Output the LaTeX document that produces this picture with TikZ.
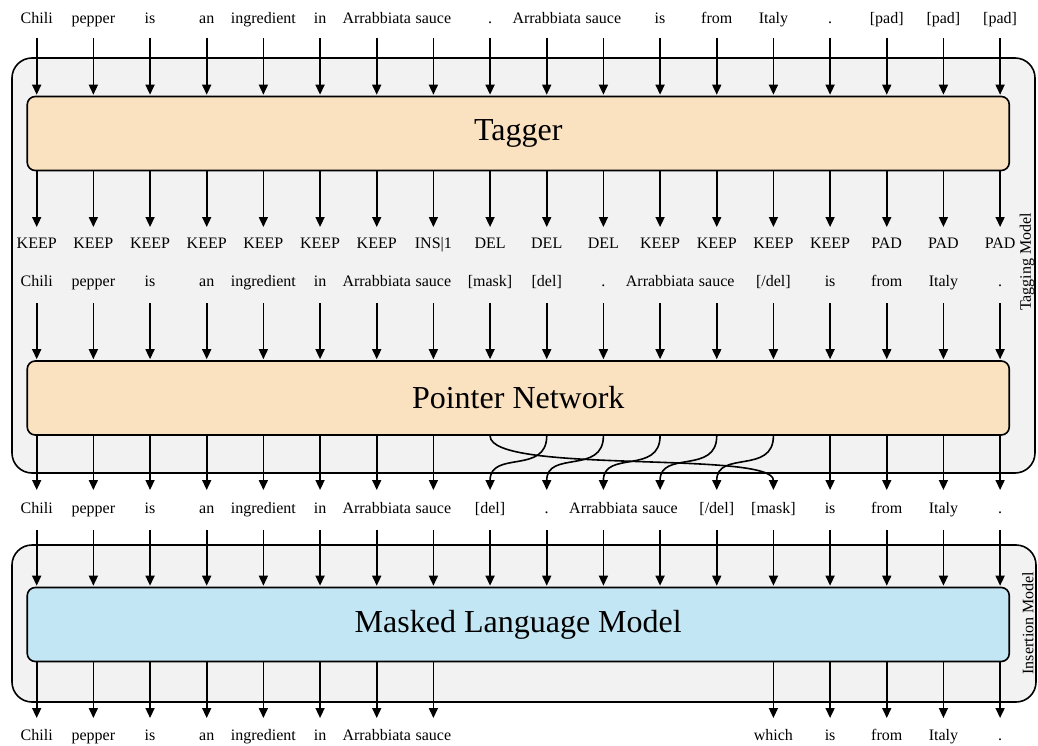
\documentclass[tikz,border=0pt]{standalone}
\usepackage{fontspec}
\setmainfont{Liberation Serif}
\usetikzlibrary{arrows.meta,calc}
\definecolor{outerfill}{RGB}{242,242,242}
\definecolor{tagfill}{RGB}{250,226,192}
\definecolor{mlmfill}{RGB}{195,230,245}
\begin{document}
\begin{tikzpicture}[x=1pt,y=-1pt,
  arr/.style={-{Triangle[length=10pt,width=9pt]}, line width=1.6pt},
  outerbox/.style={draw, line width=1.6pt, fill=outerfill, rounded corners=20pt, inner sep=0pt},
  innerbox/.style={draw, line width=1.6pt, rounded corners=8pt, inner sep=0pt, minimum width=982pt, minimum height=74pt, font=\fontsize{32pt}{38pt}\selectfont},
  lbl/.style={inner sep=0pt, text height=11pt, text depth=3.5pt, font=\fontsize{16pt}{19pt}\selectfont},
  side/.style={inner sep=0pt, rotate=90, font=\fontsize{16pt}{19pt}\selectfont}]
\useasboundingbox (0,0) rectangle (1038,746);
% outer model boxes
\node[outerbox, minimum width=1023pt, minimum height=415pt] (tagmodel) at (523.5,265.5) {};
\node[outerbox, minimum width=1024pt, minimum height=157pt] (insmodel) at (524,623.5) {};
\node[side] (taglbl) at (1027,262) {Tagging Model};
\node[side] (inslbl) at (1028,623) {Insertion Model};
% inner boxes
\node[innerbox, fill=tagfill] (tagger) at (518.25,133.5) {Tagger};
\node[innerbox, fill=tagfill] (pointer) at (518.25,398) {Pointer Network};
\node[innerbox, fill=mlmfill] (mlm) at (518.25,624.5) {Masked Language Model};
% row 0: input
\foreach \w [count=\i from 0] in {Chili,pepper,is,an,ingredient,in,Arrabbiata,sauce,.,Arrabbiata,sauce,is,from,Italy,.,{[pad]},{[pad]},{[pad]}} {
  \node[lbl] (r0-\i) at ({36.7+56.67*\i},20) {\w};
  \draw[arr, shorten <=18pt, shorten >=1pt] (r0-\i.center) -- (r0-\i |- tagger.north);
}
% tags
\foreach \w [count=\i from 0] in {KEEP,KEEP,KEEP,KEEP,KEEP,KEEP,KEEP,{INS|1},DEL,DEL,DEL,KEEP,KEEP,KEEP,KEEP,PAD,PAD,PAD} {
  \node[lbl] (tg-\i) at ({36.7+56.67*\i},245) {\w};
  \draw[arr, shorten >=18pt] (tagger.south -| tg-\i) -- (tg-\i.center);
}
% row 1: realized tags
\foreach \w [count=\i from 0] in {Chili,pepper,is,an,ingredient,in,Arrabbiata,sauce,{[mask]},{[del]},.,Arrabbiata,sauce,{[/del]},is,from,Italy,.} {
  \node[lbl] (r1-\i) at ({36.7+56.67*\i},283) {\w};
  \draw[arr, shorten <=20pt, shorten >=1pt] (r1-\i.center) -- (r1-\i |- pointer.north);
}
% row 2: reordered
\foreach \w [count=\i from 0] in {Chili,pepper,is,an,ingredient,in,Arrabbiata,sauce,{[del]},.,Arrabbiata,sauce,{[/del]},{[mask]},is,from,Italy,.} {
  \node[lbl] (r2-\i) at ({36.7+56.67*\i},510) {\w};
  \draw[arr, shorten <=20pt, shorten >=1pt] (r2-\i.center) -- (r2-\i |- mlm.north);
}
\foreach \i in {0,...,7,14,15,16,17} {
  \draw[arr, shorten >=20pt] (pointer.south -| r2-\i) -- (r2-\i.center);
}
% pointer reordering
\draw[arr] (pointer.south -| r1-8) .. controls +(0,39) and +(0,-40) .. ($(r2-13.center)+(0,-20)$);
\foreach \j in {9,...,13} {
  \pgfmathtruncatemacro\k{\j-1}
  \draw[arr] (pointer.south -| r1-\j) .. controls +(0,39) and +(0,-40) .. ($(r2-\k.center)+(0,-20)$);
}
% row 3: output
\foreach \w/\i in {Chili/0,pepper/1,is/2,an/3,ingredient/4,in/5,Arrabbiata/6,sauce/7,which/13,is/14,from/15,Italy/16,./17} {
  \node[lbl] (r3-\i) at ({36.7+56.67*\i},737) {\w};
  \draw[arr, shorten >=19pt] (mlm.south -| r3-\i) -- (r3-\i.center);
}
\end{tikzpicture}
\end{document}
